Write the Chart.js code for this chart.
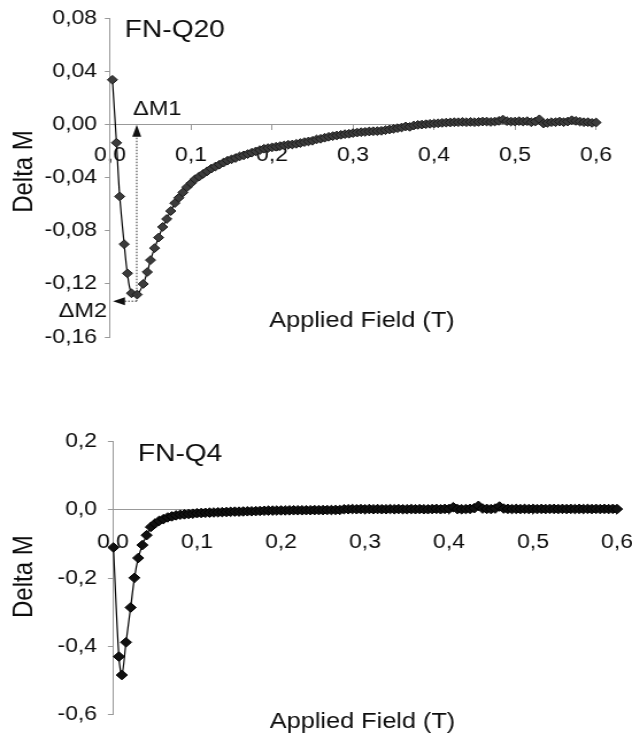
<!DOCTYPE html>
<html>
<head>
<meta charset="utf-8">
<title>Delta M vs Applied Field</title>
<script src="https://cdn.jsdelivr.net/npm/chart.js@4.4.1/dist/chart.umd.min.js"></script>
<style>
  html, body { margin: 0; padding: 0; background: #fff; }
  #wrap { position: relative; width: 632px; height: 736px; overflow: hidden; }
  #wrap canvas { position: absolute; left: 0; }
</style>
</head>
<body>
<div id="wrap">
  <canvas id="q20" width="550" height="368" style="top:0;width:632px;height:368px"></canvas>
  <canvas id="q4" width="550" height="368" style="top:368px;width:632px;height:368px"></canvas>
</div>
<script>
// ---- FN-Q20 : applied field (T) and Delta M ----
const fieldQ20 = [
  0.003, 0.008, 0.012, 0.0175, 0.0215, 0.0265, 0.0335, 0.041, 0.046, 0.05, 0.055, 0.06,
  0.065, 0.07, 0.075, 0.08, 0.085, 0.09, 0.095, 0.1, 0.105, 0.11,
  0.115, 0.12, 0.125, 0.13, 0.135, 0.14, 0.145, 0.15, 0.155, 0.16,
  0.165, 0.17, 0.175, 0.18, 0.185, 0.19, 0.195, 0.2, 0.205, 0.21,
  0.215, 0.22, 0.225, 0.23, 0.235, 0.24, 0.245, 0.25, 0.255, 0.26,
  0.265, 0.27, 0.275, 0.28, 0.285, 0.29, 0.295, 0.3, 0.305, 0.31,
  0.315, 0.32, 0.325, 0.33, 0.335, 0.34, 0.345, 0.35, 0.355, 0.36,
  0.365, 0.37, 0.375, 0.38, 0.385, 0.39, 0.395, 0.4, 0.405, 0.41,
  0.415, 0.42, 0.425, 0.43, 0.435, 0.44, 0.445, 0.45, 0.455, 0.46,
  0.465, 0.47, 0.475, 0.48, 0.485, 0.49, 0.495, 0.5, 0.505, 0.51,
  0.515, 0.52, 0.525, 0.53, 0.535, 0.54, 0.545, 0.55, 0.555, 0.56,
  0.565, 0.57, 0.575, 0.58, 0.585, 0.59, 0.595, 0.6, 0.605
];
const deltaQ20 = [
  0.034, -0.0135, -0.054, -0.09, -0.112, -0.127, -0.128, -0.12, -0.111, -0.102, -0.093, -0.085,
  -0.077, -0.071, -0.065, -0.059, -0.055, -0.051, -0.047, -0.044, -0.041, -0.039,
  -0.037, -0.035, -0.033, -0.0315, -0.03, -0.0285, -0.027, -0.026, -0.025, -0.0238,
  -0.023, -0.022, -0.021, -0.02, -0.019, -0.018, -0.0175, -0.017, -0.0165, -0.016,
  -0.0155, -0.015, -0.0148, -0.0143, -0.0137, -0.013, -0.0125, -0.012, -0.011, -0.0105,
  -0.0097, -0.009, -0.0085, -0.008, -0.0075, -0.007, -0.0067, -0.0062, -0.0058, -0.0055,
  -0.0053, -0.005, -0.0048, -0.0047, -0.0045, -0.004, -0.0035, -0.003, -0.0025, -0.002,
  -0.0012, -0.0015, -0.0005, 0.0, 0.0002, 0.0005, 0.0008, 0.001, 0.0012, 0.0015,
  0.0017, 0.0018, 0.002, 0.002, 0.0022, 0.002, 0.0022, 0.002, 0.0022, 0.0025,
  0.0025, 0.0022, 0.0025, 0.003, 0.004, 0.0028, 0.0025, 0.0025, 0.0028, 0.0025,
  0.0028, 0.002, 0.0025, 0.0042, 0.001, 0.0015, 0.002, 0.002, 0.0025, 0.002,
  0.0025, 0.0035, 0.003, 0.0025, 0.002, 0.002, 0.0015, 0.0018, 0.001
];
// field and Delta M marked by the two arrows (Delta M1 / Delta M2)
const markQ20 = { field: 0.033, delta: -0.133 };

// ---- FN-Q4 : applied field (T) and Delta M ----
const fieldQ4 = [
  0.0005, 0.007, 0.0105, 0.0155, 0.021, 0.0255, 0.03, 0.035,
  0.04, 0.045, 0.05, 0.055, 0.06, 0.065, 0.07, 0.075, 0.08, 0.085,
  0.09, 0.095, 0.1, 0.105, 0.11, 0.115, 0.12, 0.125, 0.13, 0.135,
  0.14, 0.145, 0.15, 0.155, 0.16, 0.165, 0.17, 0.175, 0.18, 0.185,
  0.19, 0.195, 0.2, 0.205, 0.21, 0.215, 0.22, 0.225, 0.23, 0.235,
  0.24, 0.245, 0.25, 0.255, 0.26, 0.265, 0.27, 0.275, 0.28, 0.285,
  0.29, 0.295, 0.3, 0.305, 0.31, 0.315, 0.32, 0.325, 0.33, 0.335,
  0.34, 0.345, 0.35, 0.355, 0.36, 0.365, 0.37, 0.375, 0.38, 0.385,
  0.39, 0.395, 0.4, 0.405, 0.41, 0.415, 0.42, 0.425, 0.43, 0.435,
  0.44, 0.445, 0.45, 0.455, 0.46, 0.465, 0.47, 0.475, 0.48, 0.485,
  0.49, 0.495, 0.5, 0.505, 0.51, 0.515, 0.52, 0.525, 0.53, 0.535,
  0.54, 0.545, 0.55, 0.555, 0.56, 0.565, 0.57, 0.575, 0.58, 0.585,
  0.59, 0.595, 0.6, 0.605
];
const deltaQ4 = [
  -0.11, -0.43, -0.484, -0.388, -0.286, -0.199, -0.141, -0.103,
  -0.074, -0.05, -0.04, -0.032, -0.027, -0.022, -0.019, -0.016, -0.014, -0.013,
  -0.012, -0.011, -0.0095, -0.009, -0.0085, -0.008, -0.0075, -0.007, -0.0065, -0.006,
  -0.0055, -0.005, -0.005, -0.0045, -0.004, -0.004, -0.0035, -0.003, -0.0025, -0.002,
  -0.002, -0.0018, -0.0015, -0.0015, -0.0012, -0.001, -0.001, -0.001, -0.0008, -0.0008,
  -0.0005, -0.0005, -0.0005, -0.0003, -0.0003, 0.0, 0.0, 0.002, 0.002, 0.0025,
  0.002, 0.0025, 0.002, 0.0025, 0.002, 0.0025, 0.002, 0.002, 0.0025, 0.002,
  0.0025, 0.002, 0.002, 0.0025, 0.002, 0.0025, 0.002, 0.002, 0.0025, 0.003,
  0.002, 0.003, 0.003, 0.008, 0.0025, 0.002, 0.0025, 0.003, 0.005, 0.012,
  0.004, 0.003, 0.0025, 0.004, 0.01, 0.004, 0.003, 0.0025, 0.003, 0.0025,
  0.003, 0.0025, 0.003, 0.0025, 0.003, 0.0025, 0.003, 0.003, 0.0025, 0.003,
  0.0025, 0.003, 0.0025, 0.003, 0.0025, 0.003, 0.0025, 0.003, 0.0025, 0.003,
  0.0025, 0.003, 0.0025, 0.002
];

// axis tick settings
const xTicksField = { min: 0, max: 0.6, step: 0.1, decimals: 1 };
const yTicksQ20 = { min: -0.16, max: 0.08, step: 0.04, decimals: 2 };
const yTicksQ4 = { min: -0.6, max: 0.2, step: 0.2, decimals: 1 };

const FONT = "'Liberation Sans', Arial, Helvetica, sans-serif";
const INK = '#0d0d0d';
const AXIS = '#999';

const comma = (v, d) => {
  const n = Math.abs(v) < 1e-9 ? 0 : v;
  return n.toFixed(d).replace('.', ',');
};

const toPoints = (xs, ys) => xs.map((x, i) => ({ x, y: ys[i] }));

function drawMarks(chart, m) {
  const { ctx, scales: { x, y } } = chart;
  const px = x.getPixelForValue(m.field);
  const py = y.getPixelForValue(m.delta);
  const tipY = y.getPixelForValue(0);
  const tipX = x.getPixelForValue(0) + 2.6;
  ctx.save();
  ctx.strokeStyle = '#333';
  ctx.lineWidth = 1;
  ctx.setLineDash([1.5, 1.5]);
  ctx.beginPath();
  ctx.moveTo(px, py);
  ctx.lineTo(px, tipY + 11);
  ctx.moveTo(px, py);
  ctx.lineTo(tipX + 9.5, py);
  ctx.stroke();
  ctx.setLineDash([]);
  ctx.fillStyle = '#111';
  ctx.beginPath();
  ctx.moveTo(px, tipY);
  ctx.lineTo(px - 3.9, tipY + 12);
  ctx.lineTo(px + 3.9, tipY + 12);
  ctx.closePath();
  ctx.fill();
  ctx.beginPath();
  ctx.moveTo(tipX, py);
  ctx.lineTo(tipX + 10.4, py - 4);
  ctx.lineTo(tipX + 10.4, py + 4);
  ctx.closePath();
  ctx.fill();
  ctx.fillStyle = INK;
  ctx.font = `20.5px ${FONT}`;
  ctx.textBaseline = 'alphabetic';
  ctx.textAlign = 'left';
  ctx.fillText('\u0394M1', px - 3.3, tipY - 10);
  ctx.textAlign = 'right';
  ctx.fillText('\u0394M2', tipX - 5.2, py + 16);
  ctx.restore();
}

// sample name, axis titles and arrows
const chartNotes = {
  id: 'chartNotes',
  afterDatasetsDraw(chart, _args, o) {
    const { ctx } = chart;
    ctx.save();
    ctx.fillStyle = INK;
    ctx.textBaseline = 'alphabetic';
    ctx.font = `24.5px ${FONT}`;
    ctx.textAlign = 'left';
    ctx.fillText(o.name, o.nameAt[0], o.nameAt[1]);
    ctx.font = `22px ${FONT}`;
    ctx.textAlign = 'center';
    ctx.fillText(o.xTitle, o.xTitleAt[0], o.xTitleAt[1]);
    ctx.font = `24px ${FONT}`;
    ctx.save();
    ctx.translate(o.yTitleAt[0], o.yTitleAt[1]);
    ctx.rotate(-Math.PI / 2);
    ctx.textBaseline = 'middle';
    ctx.fillText(o.yTitle, 0, 0);
    ctx.restore();
    ctx.restore();
    if (o.marks) drawMarks(chart, o.marks);
  }
};

function buildChart(id, s) {
  const tickFont = { family: FONT, size: 20 };
  return new Chart(document.getElementById(id), {
    type: 'scatter',
    data: {
      datasets: [{
        data: toPoints(s.xs, s.ys),
        showLine: true,
        borderColor: '#000',
        borderWidth: 1.2,
        tension: 0.35,
        pointStyle: 'rectRot',
        pointRadius: s.pointRadius,
        pointBackgroundColor: s.pointFill,
        pointBorderColor: s.pointEdge,
        pointBorderWidth: 1,
        clip: false
      }]
    },
    options: {
      responsive: false,
      animation: false,
      devicePixelRatio: 1,
      layout: { padding: s.padding },
      plugins: {
        legend: { display: false },
        tooltip: { enabled: false },
        chartNotes: s.notes
      },
      scales: {
        x: {
          type: 'linear',
          position: { y: 0 },
          min: xTicksField.min,
          max: xTicksField.max,
          afterFit: sc => { sc.paddingLeft = 0; sc.paddingRight = 0; },
          ticks: {
            stepSize: xTicksField.step,
            padding: s.xPad,
            color: INK,
            font: tickFont,
            maxRotation: 0,
            autoSkip: false,
            callback: v => comma(v, xTicksField.decimals)
          },
          grid: { drawOnChartArea: false, tickLength: 5, color: AXIS },
          border: { color: AXIS, width: 1 }
        },
        y: {
          type: 'linear',
          position: 'left',
          min: s.yTicks.min,
          max: s.yTicks.max,
          afterFit: sc => { sc.width = s.yWidth; },
          ticks: {
            stepSize: s.yTicks.step,
            padding: s.yPad,
            color: INK,
            font: tickFont,
            callback: v => comma(v, s.yTicks.decimals)
          },
          grid: { drawOnChartArea: false, tickLength: 4.5, color: AXIS },
          border: { color: AXIS, width: 1 }
        }
      }
    },
    plugins: [chartNotes]
  });
}

buildChart('q20', {
  xs: fieldQ20, ys: deltaQ20, yTicks: yTicksQ20,
  pointRadius: 4.4, pointFill: '#3c3c3c', pointEdge: '#1a1a1a',
  padding: { left: 0, top: 17, right: 31.3, bottom: 31 },
  yWidth: 95.73, xPad: 13.4, yPad: 6.8,
  notes: {
    name: 'FN-Q20', nameAt: [108.6, 37],
    xTitle: 'Applied Field (T)', xTitleAt: [315, 327],
    yTitle: 'Delta M', yTitleAt: [20.9, 171.5],
    marks: markQ20
  }
});

buildChart('q4', {
  xs: fieldQ4, ys: deltaQ4, yTicks: yTicksQ4,
  pointRadius: 4.8, pointFill: '#111', pointEdge: '#000',
  padding: { left: 0, top: 73.7, right: 13.04, bottom: 13 },
  yWidth: 98.34, xPad: 16, yPad: 9.4,
  notes: {
    name: 'FN-Q4', nameAt: [120, 92.7],
    xTitle: 'Applied Field (T)', xTitleAt: [315.5, 360],
    yTitle: 'Delta M', yTitleAt: [20.9, 208.7]
  }
});
</script>
</body>
</html>
